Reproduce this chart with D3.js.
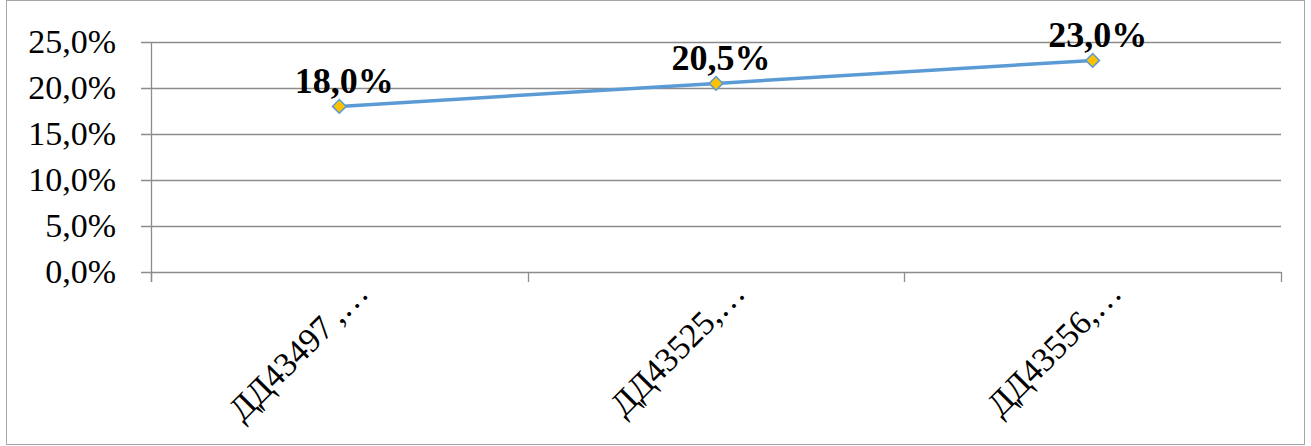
<!DOCTYPE html>
<html><head><meta charset="utf-8">
<script src="https://cdn.jsdelivr.net/npm/d3@7"></script>
<style>body{margin:0;background:#fff}svg{display:block}</style>
</head><body><svg id="c" width="1311" height="446"></svg>
<script>
const categories = ["ДД43497\u2009,…", "ДД43525,…", "ДД43556,…"];
const values = [0.18, 0.205, 0.23];
const dataLabels = ["18,0%", "20,5%", "23,0%"];
const yTicks = [0, 0.05, 0.10, 0.15, 0.20, 0.25];
const yTickLabels = ["0,0%", "5,0%", "10,0%", "15,0%", "20,0%", "25,0%"];

(function () {
const svg = d3.select("#c");
const mLeft = 151, mRight = 1281, mTop = 42, mBottom = 272;
const font = "Liberation Serif, Tinos, DejaVu Serif, serif";

svg.append("rect").attr("x", 6.5).attr("y", 0.5).attr("width", 1298).attr("height", 444)
  .attr("fill", "#fff").attr("stroke", "#a6a6a6").attr("stroke-width", 1);

const x = d3.scaleBand().domain(categories).range([mLeft, mRight]);
const y = d3.scaleLinear().domain([0, 0.25]).range([mBottom, mTop]);

svg.append("g").selectAll("line").data(yTicks).join("line")
  .attr("x1", mLeft - 10).attr("x2", mRight)
  .attr("y1", d => Math.round(y(d)) + 0.5).attr("y2", d => Math.round(y(d)) + 0.5)
  .attr("stroke", "#8c8c8c").attr("stroke-width", 1.3);

svg.append("line").attr("x1", mLeft + 0.5).attr("x2", mLeft + 0.5)
  .attr("y1", mTop).attr("y2", mBottom + 10).attr("stroke", "#8c8c8c").attr("stroke-width", 1.3);

const tickXs = categories.map(c => x(c)).concat([mRight]);
svg.append("g").selectAll("line").data(tickXs).join("line")
  .attr("x1", d => Math.round(d) + 0.5).attr("x2", d => Math.round(d) + 0.5)
  .attr("y1", mBottom).attr("y2", mBottom + 10)
  .attr("stroke", "#8c8c8c").attr("stroke-width", 1.3);

svg.append("g").selectAll("text").data(yTicks).join("text")
  .attr("x", 116).attr("y", d => y(d) + 11)
  .attr("text-anchor", "end").attr("font-family", font).attr("font-size", 34)
  .attr("fill", "#000").text((d, i) => yTickLabels[i]);

svg.append("g").selectAll("text").data(categories).join("text")
  .attr("transform", d => `translate(${x(d) + x.bandwidth() / 2 + 31},${295}) rotate(-45)`)
  .attr("text-anchor", "end").attr("font-family", font).attr("font-size", 34)
  .attr("fill", "#000").text(d => d);

const cx = d => x(d) + x.bandwidth() / 2;

svg.append("path").datum(categories)
  .attr("d", d3.line().x(d => cx(d)).y((d, i) => y(values[i])))
  .attr("fill", "none").attr("stroke", "#5b9bd5").attr("stroke-width", 3.5);

svg.append("g").selectAll("path").data(categories).join("path")
  .attr("transform", (d, i) => `translate(${cx(d)},${y(values[i])})`)
  .attr("d", d3.symbol(d3.symbolDiamond2, 120)())
  .attr("fill", "#ffc000").attr("stroke", "#5b9bd5").attr("stroke-width", 1.5);

svg.append("g").selectAll("text").data(categories).join("text")
  .attr("x", d => cx(d) + 5).attr("y", (d, i) => y(values[i]) - 13)
  .attr("text-anchor", "middle").attr("font-family", font).attr("font-size", 36)
  .attr("font-weight", "bold").attr("fill", "#000").text((d, i) => dataLabels[i]);
})();
</script></body></html>
